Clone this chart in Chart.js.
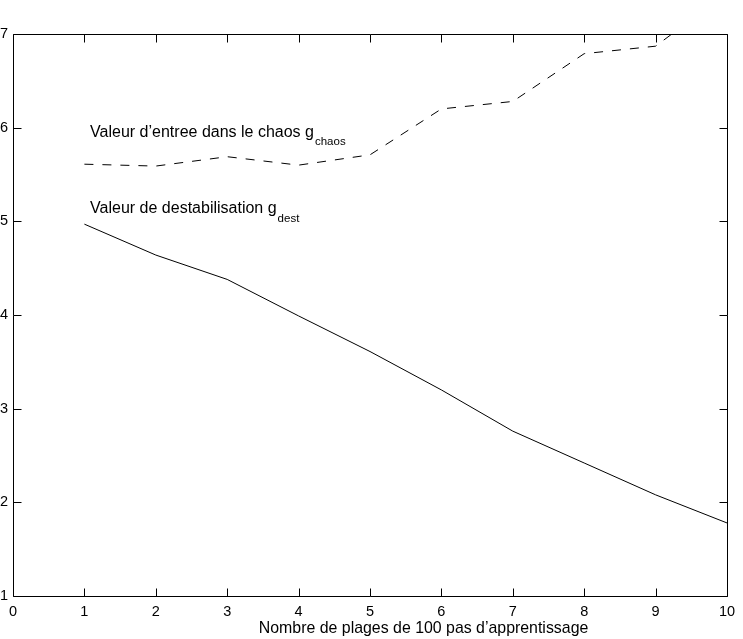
<!DOCTYPE html>
<html>
<head>
<meta charset="utf-8">
<script src="https://cdn.jsdelivr.net/npm/chart.js@4/dist/chart.umd.min.js"></script>
<style>
html,body{margin:0;padding:0;background:#fff;}
#wrap{width:743px;height:639px;}
</style>
</head>
<body>
<div id="wrap"><canvas id="c" width="743" height="639"></canvas></div>
<script>
// ---- data ----
const xValues = [1, 2, 3, 4, 5, 6, 7, 8, 9, 10];
const chaosValues = [5.61, 5.59, 5.69, 5.60, 5.71, 6.20, 6.28, 6.79, 6.87, 7.44];
const destValues = [4.97, 4.64, 4.38, 3.99, 3.61, 3.20, 2.76, 2.42, 2.08, 1.78];
const xTickValues = [0, 1, 2, 3, 4, 5, 6, 7, 8, 9, 10];
const yTickValues = [1, 2, 3, 4, 5, 6, 7];
const xAxisTitle = "Nombre de plages de 100 pas d\u2019apprentissage";
const chaosLabel = "Valeur d\u2019entree dans le chaos g";
const chaosSub = "chaos";
const destLabel = "Valeur de destabilisation g";
const destSub = "dest";

const FONT = "'Liberation Sans', Arial, Helvetica, sans-serif";

const framePlugin = {
  id: 'frame',
  afterDatasetsDraw(chart) {
    const ctx = chart.ctx;
    const xs = chart.scales.x, ys = chart.scales.y;
    const L = Math.round(xs.getPixelForValue(0)) + 0.5;
    const R = Math.round(xs.getPixelForValue(10)) + 0.5;
    const T = Math.round(ys.getPixelForValue(7)) + 0.5;
    const B = Math.round(ys.getPixelForValue(1)) + 0.5;
    const tl = 8;
    ctx.save();
    ctx.strokeStyle = '#000';
    ctx.lineWidth = 1;
    ctx.beginPath();
    ctx.rect(L, T, R - L, B - T);
    xTickValues.forEach(v => {
      const px = Math.round(xs.getPixelForValue(v)) + 0.5;
      ctx.moveTo(px, B); ctx.lineTo(px, B - tl);
      ctx.moveTo(px, T); ctx.lineTo(px, T + tl);
    });
    yTickValues.forEach(v => {
      const py = Math.round(ys.getPixelForValue(v)) + 0.5;
      ctx.moveTo(L, py); ctx.lineTo(L + tl, py);
      ctx.moveTo(R, py); ctx.lineTo(R - tl, py);
    });
    ctx.stroke();

    // annotations
    ctx.fillStyle = '#000';
    ctx.textAlign = 'left';
    ctx.textBaseline = 'alphabetic';
    const drawLabel = (txt, sub, xv, yv) => {
      const px = xs.getPixelForValue(xv), py = ys.getPixelForValue(yv);
      ctx.font = "16px " + FONT;
      ctx.fillText(txt, px, py);
      const w = ctx.measureText(txt).width;
      ctx.font = "11.5px " + FONT;
      ctx.fillText(sub, px + w + 1, py + 8.5);
    };
    drawLabel(chaosLabel, chaosSub, 1.08, 5.905);
    drawLabel(destLabel, destSub, 1.08, 5.085);

    // x axis title
    ctx.font = "15.9px " + FONT;
    ctx.textAlign = 'center';
    ctx.fillText(xAxisTitle, xs.getPixelForValue(5.75), 633);
    ctx.restore();
  }
};

new Chart(document.getElementById('c'), {
  type: 'line',
  data: {
    datasets: [
      {
        label: 'g_chaos',
        data: xValues.map((x, i) => ({x: x, y: chaosValues[i]})),
        borderColor: '#000',
        borderWidth: 1,
        borderDash: [9, 9],
        pointRadius: 0,
        tension: 0,
        fill: false
      },
      {
        label: 'g_dest',
        data: xValues.map((x, i) => ({x: x, y: destValues[i]})),
        borderColor: '#000',
        borderWidth: 1,
        pointRadius: 0,
        tension: 0,
        fill: false
      }
    ]
  },
  options: {
    responsive: false,
    animation: false,
    devicePixelRatio: 1,
    layout: {padding: {top: 34, right: 16, left: 0, bottom: 0}},
    plugins: {legend: {display: false}, tooltip: {enabled: false}},
    scales: {
      x: {
        type: 'linear', min: 0, max: 10,
        afterBuildTicks: s => { s.ticks = xTickValues.map(v => ({value: v})); },
        afterFit: s => { s.height = 43; },
        grid: {display: false, drawTicks: false},
        border: {display: false},
        ticks: {color: '#000', font: {family: FONT, size: 14.5}, padding: 7, maxRotation: 0, autoSkip: false}
      },
      y: {
        type: 'linear', min: 1, max: 7,
        afterBuildTicks: s => { s.ticks = yTickValues.map(v => ({value: v})); },
        afterFit: s => { s.width = 13; },
        grid: {display: false, drawTicks: false},
        border: {display: false},
        ticks: {color: '#000', font: {family: FONT, size: 14.5}, padding: 5, autoSkip: false}
      }
    }
  },
  plugins: [framePlugin]
});
</script>
</body>
</html>
